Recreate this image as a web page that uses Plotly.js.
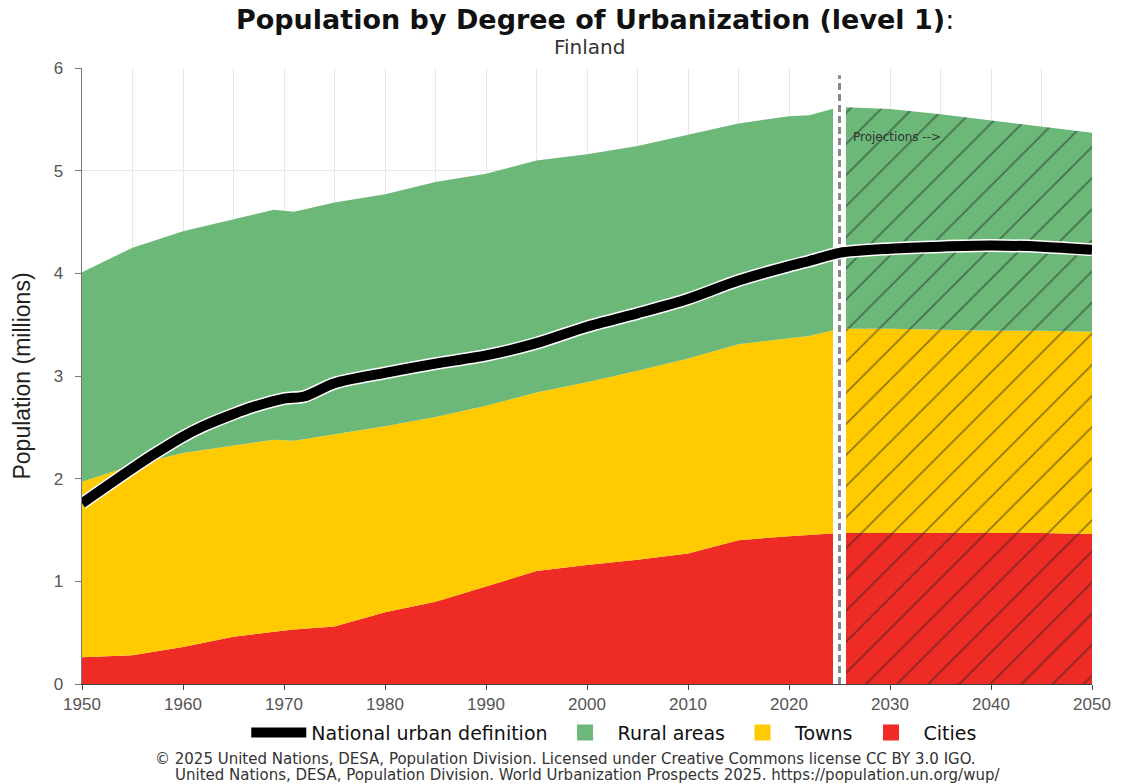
<!DOCTYPE html>
<html>
<head>
<meta charset="utf-8">
<script src="https://cdn.plot.ly/plotly-3.0.1.min.js"></script>
<style>html,body{margin:0;padding:0;background:#fff;}#chart{width:1128px;height:784px;}</style>
</head>
<body>
<div id="chart"></div>
<script>
// ---- Data (millions) ----
const histYears = [1950,1955,1960,1965,1969,1971,1975,1980,1985,1990,1995,2000,2005,2010,2015,2020,2022,2025];
const histCities = [0.26,0.28,0.36,0.46,0.51,0.53,0.56,0.70,0.80,0.95,1.10,1.16,1.21,1.27,1.40,1.44,1.45,1.47];
const histTowns  = [1.71,1.85,1.89,1.86,1.87,1.84,1.87,1.81,1.80,1.76,1.74,1.78,1.84,1.90,1.91,1.93,1.94,1.99];
const histRural  = [2.04,2.12,2.16,2.21,2.24,2.23,2.26,2.26,2.29,2.26,2.26,2.22,2.19,2.18,2.15,2.16,2.15,2.16];

const projYears  = [2025,2030,2035,2040,2045,2050];
const projCities = [1.47,1.47,1.47,1.47,1.47,1.46];
const projTowns  = [1.99,1.99,1.98,1.97,1.97,1.97];
const projRural  = [2.16,2.14,2.10,2.05,1.99,1.94];

const urbanYears = [1950,1955,1957,1960,1962,1965,1967,1970,1972,1975,1980,1985,1990,1995,2000,2005,2010,2015,2020,2022,2025,2030,2035,2040,2045,2050];
const urbanNational = [1.76,2.10,2.23,2.41,2.51,2.63,2.70,2.78,2.80,2.93,3.03,3.12,3.20,3.32,3.48,3.61,3.75,3.93,4.07,4.12,4.20,4.24,4.26,4.27,4.26,4.23];

const projectionYear = 2025;
const yTop = 6;

const seriesNames = ['Cities','Towns','Rural areas'];
const colors = {'Cities':'#EE2B24','Towns':'#FFCA00','Rural areas':'#6BB879'};
const ranks = {'Cities':4,'Towns':3,'Rural areas':2};

const traces = [];
const histData = [histCities, histTowns, histRural];
const projData = [projCities, projTowns, projRural];
seriesNames.forEach((n,i)=>{
  traces.push({
    x: histYears, y: histData[i], name: n, type:'scatter', mode:'lines',
    stackgroup:'hist', line:{width:0, color:colors[n]}, fillcolor:colors[n],
    showlegend:false, hoverinfo:'skip'
  });
});
seriesNames.forEach((n,i)=>{
  traces.push({
    x: projYears, y: projData[i], name: n, type:'scatter', mode:'lines',
    stackgroup:'proj', line:{width:0, color:colors[n]}, fillcolor:colors[n],
    fillpattern:{shape:'/', size:22, solidity:0.08, fgcolor:'#222', fgopacity:0.5, bgcolor:colors[n]},
    showlegend:false, hoverinfo:'skip'
  });
});
// projection separator
traces.push({x:[projectionYear,projectionYear], y:[0,yTop], mode:'lines', type:'scatter',
  line:{color:'#ffffff', width:13}, showlegend:false, hoverinfo:'skip'});
traces.push({x:[projectionYear,projectionYear], y:[0,yTop-0.07], mode:'lines', type:'scatter',
  line:{color:'#8a8a8a', width:3, dash:'7px,4px'}, showlegend:false, hoverinfo:'skip'});
// national urban definition line with white halo
traces.push({x:urbanYears, y:urbanNational, mode:'lines', type:'scatter',
  line:{color:'#ffffff', width:13, shape:'spline', smoothing:0.8}, showlegend:false, hoverinfo:'skip'});
traces.push({x:urbanYears, y:urbanNational, mode:'lines', type:'scatter', name:'National urban definition',
  line:{color:'#000000', width:10, shape:'spline', smoothing:0.8}, legendrank:1, hoverinfo:'skip'});
// legend swatches for the areas
seriesNames.forEach(n=>{
  traces.push({x:[null], y:[null], type:'scatter', mode:'markers', name:n,
    marker:{symbol:'square', size:18, color:colors[n]}, legendrank:ranks[n], hoverinfo:'skip'});
});

const tickFont = {family:'Liberation Sans, Arial, sans-serif', size:17, color:'#555'};

const layout = {
  width:1128, height:784,
  margin:{l:82, r:36, t:68, b:100},
  paper_bgcolor:'#fff', plot_bgcolor:'#fff',
  title:{
    text:'<b>Population by Degree of Urbanization (level 1)</b>:',
    font:{family:'DejaVu Sans, sans-serif', size:27, color:'#111'},
    xref:'paper', x:0.508, xanchor:'center',
    yref:'container', y:0.975, yanchor:'middle'
  },
  xaxis:{
    range:[1950,2050], dtick:10, tick0:1950,
    showgrid:true, gridcolor:'#e8e8e8', gridwidth:1,
    minor:{dtick:5, showgrid:true, gridcolor:'#e8e8e8', gridwidth:1},
    showline:true, linecolor:'#444', linewidth:1,
    ticks:'outside', ticklen:5, tickcolor:'#444',
    tickfont: tickFont, zeroline:false, fixedrange:true
  },
  yaxis:{
    range:[0,yTop], dtick:1,
    showgrid:true, gridcolor:'#e8e8e8', gridwidth:1,
    showline:true, linecolor:'#777', linewidth:1.5,
    ticks:'outside', ticklen:6, tickcolor:'#777', ticklabelstandoff:8,
    tickfont: tickFont, zeroline:false,
    title:{text:'Population (millions)', font:{family:'Liberation Sans, Arial, sans-serif', size:23, color:'#222'}, standoff:16}
  },
  showlegend:true,
  legend:{
    orientation:'h', x:0.527, xanchor:'center', y:-0.079, yanchor:'middle',
    font:{family:'DejaVu Sans, sans-serif', size:19, color:'#111'},
    itemwidth:55, traceorder:'normal', bgcolor:'rgba(0,0,0,0)'
  },
  annotations:[
    {text:'Finland', xref:'paper', yref:'paper', x:0.502, y:1.034, xanchor:'center', yanchor:'middle',
     showarrow:false, font:{family:'DejaVu Sans, sans-serif', size:20, color:'#333'}},
    {text:'Projections -->', xref:'x', yref:'y', x:projectionYear+1.1, y:5.33, xanchor:'left', yanchor:'middle',
     showarrow:false, font:{family:'DejaVu Sans, sans-serif', size:12, color:'#333'}},
    {text:'© 2025 United Nations, DESA, Population Division. Licensed under Creative Commons license CC BY 3.0 IGO.',
     xref:'paper', yref:'paper', x:0.479, y:-0.121, xanchor:'center', yanchor:'middle', showarrow:false,
     font:{family:'DejaVu Sans, sans-serif', size:15, color:'#333'}},
    {text:'United Nations, DESA, Population Division. World Urbanization Prospects 2025. https://population.un.org/wup/',
     xref:'paper', yref:'paper', x:0.5, y:-0.147, xanchor:'center', yanchor:'middle', showarrow:false,
     font:{family:'DejaVu Sans, sans-serif', size:15, color:'#333'}}
  ]
};

Plotly.newPlot('chart', traces, layout, {staticPlot:true, displayModeBar:false});
</script>
</body>
</html>
